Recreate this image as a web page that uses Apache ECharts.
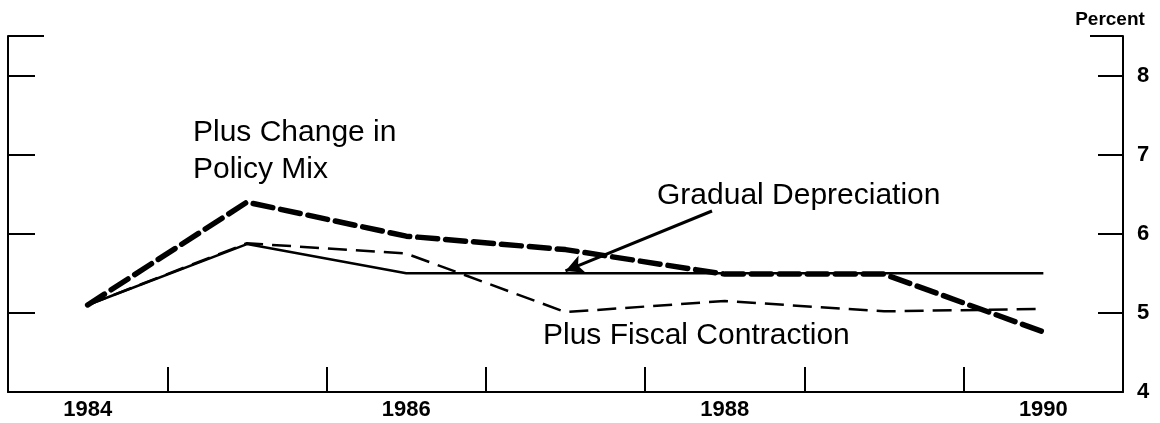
<!DOCTYPE html>
<html>
<head>
<meta charset="utf-8">
<script src="https://cdn.jsdelivr.net/npm/echarts@6/dist/echarts.min.js"></script>
<style>
  html, body { margin: 0; padding: 0; background: #fff; }
  #chart { width: 1160px; height: 423px; }
</style>
</head>
<body>
<div id="chart"></div>
<script>
const chart = echarts.init(document.getElementById('chart'));

// years on the category axis
const years = ['1984', '1985', '1986', '1987', '1988', '1989', '1990'];
// percent values
const gradualDepreciation = [5.1, 5.87, 5.5, 5.5, 5.5, 5.5, 5.5];
const plusFiscalContraction = [5.1, 5.88, 5.75, 5.01, 5.15, 5.02, 5.05];
const plusPolicyMix = [5.1, 6.4, 5.97, 5.8, 5.49, 5.49, 4.76];
// y range
const yMin = 4;
const yMax = 8.5;

const FONT = '"Liberation Sans", Arial, Helvetica, sans-serif';
const ink = '#000';

const option = {
  backgroundColor: '#fff',
  animation: false,
  grid: { left: 8, right: 37, top: 36, bottom: 31 },
  xAxis: {
    type: 'category',
    data: years,
    boundaryGap: true,
    axisLine: { lineStyle: { color: ink, width: 2 } },
    axisTick: { show: true, inside: true, length: 25, interval: 0, lineStyle: { color: ink, width: 2 } },
    axisLabel: { interval: 1, margin: 7, color: ink, fontSize: 22, fontWeight: 'bold', fontFamily: FONT },
    splitLine: { show: false }
  },
  yAxis: [
    {
      type: 'value',
      position: 'right',
      min: yMin, max: yMax, interval: 1,
      axisLine: { show: true, lineStyle: { color: ink, width: 2 } },
      axisTick: { show: true, inside: true, length: 25, lineStyle: { color: ink, width: 2 } },
      axisLabel: {
        margin: 14, color: ink, fontSize: 22, fontWeight: 'bold', fontFamily: FONT,
        formatter: v => (v % 1 === 0 ? String(v) : '')
      },
      splitLine: { show: false }
    },
    {
      type: 'value',
      position: 'left',
      min: yMin, max: yMax, interval: 1,
      axisLine: { show: true, lineStyle: { color: ink, width: 2 } },
      axisTick: { show: true, inside: true, length: 27, lineStyle: { color: ink, width: 2 } },
      axisLabel: { show: false },
      splitLine: { show: false }
    }
  ],
  graphic: [
    // top brackets of the frame
    { type: 'line', shape: { x1: 8, y1: 36, x2: 44, y2: 36 }, style: { stroke: ink, lineWidth: 2 } },
    { type: 'line', shape: { x1: 1090, y1: 36, x2: 1123, y2: 36 }, style: { stroke: ink, lineWidth: 2 } },
    { type: 'text', x: 1110, y: 10, style: { text: 'Percent', fill: ink, font: 'bold 19px ' + FONT, align: 'center', verticalAlign: 'top' } },
    { type: 'text', x: 193, y: 114, style: { text: 'Plus Change in\nPolicy Mix', fill: ink, font: '30px ' + FONT, lineHeight: 37, verticalAlign: 'top' } },
    { type: 'text', x: 657, y: 181, style: { text: 'Gradual Depreciation', fill: ink, font: '30px ' + FONT, verticalAlign: 'top' } },
    { type: 'text', x: 543, y: 321, style: { text: 'Plus Fiscal Contraction', fill: ink, font: '30px ' + FONT, verticalAlign: 'top' } }
  ],
  series: [
    {
      name: 'Gradual Depreciation',
      type: 'line',
      data: gradualDepreciation,
      showSymbol: false,
      lineStyle: { color: ink, width: 2.5 },
      markLine: {
        silent: true,
        symbol: ['none', 'arrow'],
        symbolSize: [14, 18],
        label: { show: false },
        lineStyle: { color: ink, width: 3, type: 'solid' },
        data: [[{ x: 712, y: 211 }, { coord: ['1987', 5.53] }]]
      }
    },
    {
      name: 'Plus Fiscal Contraction',
      type: 'line',
      data: plusFiscalContraction,
      showSymbol: false,
      lineStyle: { color: ink, width: 2.5, type: [19, 9] }
    },
    {
      name: 'Plus Change in Policy Mix',
      type: 'line',
      data: plusPolicyMix,
      showSymbol: false,
      lineStyle: { color: ink, width: 5.5, type: [20, 8], cap: 'round' }
    }
  ]
};
chart.setOption(option);
</script>
</body>
</html>
